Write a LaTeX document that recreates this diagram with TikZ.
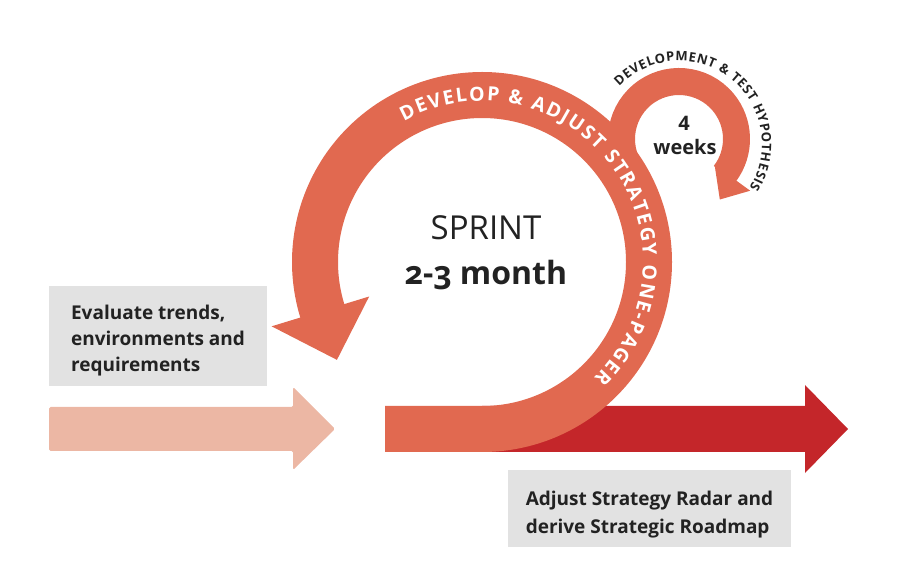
\documentclass[tikz,border=0pt]{standalone}
\usepackage{fontspec}
\setmainfont{Open Sans}
\usetikzlibrary{decorations.text}
\definecolor{sprintorange}{RGB}{225,105,80}
\definecolor{roadred}{RGB}{196,38,42}
\definecolor{inputpink}{RGB}{236,183,164}
\definecolor{boxgrey}{RGB}{226,226,226}
\definecolor{textdark}{RGB}{34,34,34}
\tikzstyle{box} = [rectangle, fill=boxgrey, text=textdark, align=left, font=\bfseries\fontsize{19}{26}\selectfont]
\tikzstyle{band} = [draw=sprintorange, line width=46pt]
\tikzstyle{testband} = [draw=sprintorange, line width=27pt]
\tikzstyle{looptext} = [text=textdark, inner sep=0pt]

\begin{document}
\begin{tikzpicture}[x=1pt, y=1pt]
\useasboundingbox (0,0) rectangle (897,568);

\coordinate (sprintc) at (482,306);
\coordinate (testc) at (679,429);
\coordinate (hypoc) at (679,424);

% Arrows
\fill [inputpink, rounded corners=1.5pt] (49,117) -- (293,117) -- (293,98) -- (335,139) -- (293,181) -- (293,161) -- (49,161) -- cycle;
\fill [roadred] (482,116) -- (805,116) -- (805,95) -- (848,139) -- (805,183) -- (805,162) -- (482,162) -- cycle;

% Sprint loop
\draw [band] (385,139) -- (482,139) arc[start angle=-90, end angle=198, radius=167];
\fill [sprintorange] ([shift={(197:118)}]sprintc) -- ([shift={(214:175)}]sprintc) -- ([shift={(197:220)}]sprintc) -- cycle;

% Test loop
\draw [testband] ([shift={(220:57.5)}]testc) arc[start angle=220, end angle=-37, radius=57.5];
\fill [sprintorange] ([shift={(-36:44)}]testc) -- ([shift={(-56:73)}]testc) -- ([shift={(-36:88)}]testc) -- cycle;

% Texts along the loops
\path [decorate, decoration={text along path, text align={fit to path},
  text={|\color{white}\bfseries\fontsize{19.5}{19.5}\selectfont|DEVELOP {\&} ADJUST STRATEGY ONE-PAGER}}]
  ([shift={(119:161)}]sprintc) arc[start angle=119, end angle=-46, radius=161];
\path [decorate, decoration={text along path, text align={fit to path},
  text={|\color{textdark}\bfseries\fontsize{13}{13}\selectfont|DEVELOPMENT {\&} TEST HYPOTHESIS}}]
  ([shift={(136:83)}]hypoc) arc[start angle=136, end angle=-32, radius=83];

% Labels
\node (sprint) [looptext, font=\fontsize{33}{33}\selectfont] at (486,340) {SPRINT};
\node (duration) [looptext, anchor=base, font=\bfseries\fontsize{32}{32}\selectfont\addfontfeatures{Numbers=OldStyle}] at (486,283) {2-3 month};
\node (weeksnum) [looptext, anchor=base, font=\bfseries\fontsize{20}{20}\selectfont] at (684,437) {4};
\node (weekslabel) [looptext, anchor=base, font=\bfseries\fontsize{20}{20}\selectfont] at (685,413) {weeks};

\node (trends) [box, minimum width=218pt, minimum height=100pt] at (158,232) {\rule{0pt}{23pt}Evaluate trends,\\environments and\\requirements};
\node (roadmap) [box, minimum width=283pt, minimum height=77pt, font=\bfseries\fontsize{19}{28}\selectfont] at (649.5,59.5) {\rule{0pt}{25.6pt}Adjust Strategy Radar and\\derive Strategic Roadmap};

\end{tikzpicture}
\end{document}
